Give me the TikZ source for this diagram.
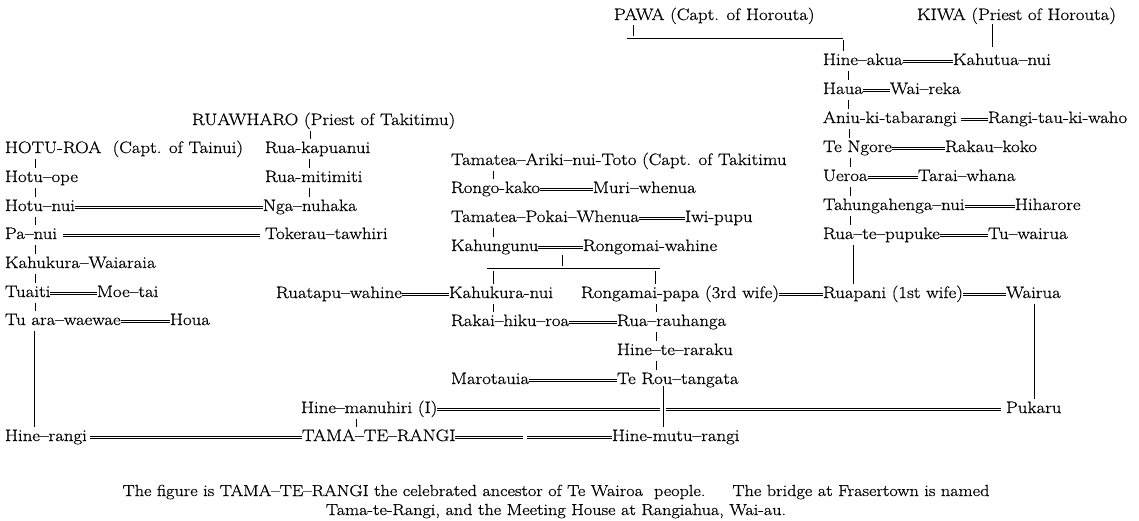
\documentclass[tikz,border=0pt]{standalone}
\usepackage{fontspec}
\setmainfont{Latin Modern Roman}[FakeStretch=1.14,FakeBold=0.6]
\newcommand\pf{\fontsize{16.5}{19}\selectfont}
\tikzset{
  person/.style={anchor=base west, inner sep=0pt, outer sep=0pt, font=\pf},
  kin/.style={line width=0.9pt},
  wed/.style={double, double distance=1.4pt, line width=0.7pt},
  captext/.style={anchor=base, inner sep=0pt, font=\fontsize{16}{18}\selectfont},
}
\newcommand\tk[3]{\draw[kin] ([yshift=-6pt]#1.base -| #3,0) -- ([yshift=14pt]#2.base -| #3,0);}
\newcommand\mw[3][]{\draw[wed,#1] ([yshift=3.5pt]#2.base east) -- ([yshift=3.5pt]#3.base west);}
\begin{document}
\begin{tikzpicture}[x=1pt,y=-1pt]
\fill[white] (0,0) rectangle (1139,520);
\useasboundingbox (0,0) rectangle (1139,520);
% right column
\node[person] (pawa) at (614,20) {PAWA (Capt. of Horouta)};
\node[person] (kiwa) at (917,20) {KIWA (Priest of Horouta)};
\node[person] (hineakua) at (823,65) {Hine--akua};
\node[person] (kahutua) at (953,65) {Kahutua--nui};
\node[person] (haua) at (823,94) {Haua};
\node[person] (waireka) at (890,94) {Wai--reka};
\node[person] (aniu) at (823,123) {Aniu-ki-tabarangi};
\node[person] (rangitau) at (988,123) {Rangi-tau-ki-waho};
\node[person] (tengore) at (823,152) {Te Ngore};
\node[person] (rakau) at (945,152) {Rakau--koko};
\node[person] (ueroa) at (823,181) {Ueroa};
\node[person] (tarai) at (918,181) {Tarai--whana};
\node[person] (tahunga) at (823,210) {Tahungahenga--nui};
\node[person] (hiharore) at (1015,210) {Hiharore};
\node[person] (ruatepupuke) at (823,239) {Rua--te--pupuke};
\node[person] (tuwairua) at (988,239) {Tu--wairua};
\node[person] (ruapani) at (823,298) {Ruapani (1st wife)};
\node[person] (wairua) at (1006,298) {Wairua};
\node[person] (pukaru) at (1006,413) {Pukaru};
% left column
\node[person] (ruawharo) at (192,125) {RUAWHARO (Priest of Takitimu)};
\node[person] (hoturoa) at (5,153) {HOTU-ROA\ \ (Capt. of Tainui)};
\node[person] (ruakap) at (265,153) {Rua-kapuanui};
\node[person] (hotuope) at (5,182) {Hotu--ope};
\node[person] (ruamit) at (265,182) {Rua-mitimiti};
\node[person] (hotunui) at (5,211) {Hotu--nui};
\node[person] (nganuhaka) at (263,211) {Nga--nuhaka};
\node[person] (panui) at (5,239) {Pa--nui};
\node[person] (tokerau) at (265,239) {Tokerau--tawhiri};
\node[person] (kahukuraw) at (5,268) {Kahukura--Waiaraia};
\node[person] (tuaiti) at (5,297) {Tuaiti};
\node[person] (moetai) at (97,297) {Moe--tai};
\node[person] (tuara) at (5,325) {Tu ara--waewae};
\node[person] (houa) at (170,325) {Houa};
\node[person] (hinerangi) at (5,441) {Hine--rangi};
\node[person] (tama) at (302,441) {TAMA--TE--RANGI};
\node[person] (hinemanuhiri) at (301,413) {Hine--manuhiri (I)};
\node[person] (hinemutu) at (612,441) {Hine-mutu--rangi};
% middle
\node[person] (tamatea) at (451,165) {Tamatea--Ariki--nui-Toto (Capt. of Takitimu};
\node[person] (rongokako) at (451,193) {Rongo-kako};
\node[person] (muri) at (593,193) {Muri--whenua};
\node[person] (tamateap) at (451,222) {Tamatea--Pokai--Whenua};
\node[person] (iwipupu) at (685,222) {Iwi-pupu};
\node[person] (kahungunu) at (451,251) {Kahungunu};
\node[person] (rongomai) at (583,251) {Rongomai-wahine};
\node[person] (ruatapu) at (276,298) {Ruatapu--wahine};
\node[person] (kahukuranui) at (449,298) {Kahukura-nui};
\node[person] (rongamai) at (581,298) {Rongamai-papa (3rd wife)};
\node[person] (rakai) at (451,326) {Rakai--hiku--roa};
\node[person] (ruarau) at (617,326) {Rua--rauhanga};
\node[person] (hineterar) at (617,355) {Hine--te--raraku};
\node[person] (marotauia) at (451,384) {Marotauia};
\node[person] (terou) at (617,384) {Te Rou--tangata};
% caption
\node[captext] (cap1) at (556,496) {The figure is TAMA--TE--RANGI the celebrated ancestor of Te Wairoa\ \ people.\quad\ \ The bridge at Frasertown is named};
\node[captext] (cap2) at (556,515) {Tama-te-Rangi, and the Meeting House at Rangiahua, Wai-au.};
% coordinates
\coordinate (pb1) at (627,38);
\coordinate (pb2) at (843,38);
\coordinate (kb1) at (487,268);
\coordinate (kb2) at (660,268);
\coordinate (kbt) at (562,266);
\coordinate (kt1) at (493,271);
\coordinate (kt2) at (655,271);
\coordinate (brkA) at (660,0);
\coordinate (brkB) at (666,0);
\coordinate (brkC) at (523,0);
\coordinate (brkD) at (527,0);
% PAWA / KIWA
\draw[kin] ([yshift=-5pt]pawa.base -| 633,0) -- ([yshift=2pt]pb1 -| 633,0);
\draw[kin] (pb1) -- (pb2);
\draw[kin] ([yshift=-2pt]pb2) -- ([yshift=14pt]hineakua.base -| pb2);
\draw[kin] ([yshift=-4pt]kiwa.base -| 992,0) -- ([yshift=18pt]kahutua.base -| 992,0);
\tk{hineakua}{haua}{848}
\tk{haua}{aniu}{848}
\tk{aniu}{tengore}{849}
\tk{tengore}{ueroa}{850}
\tk{ueroa}{tahunga}{850}
\tk{tahunga}{ruatepupuke}{850}
\tk{ruatepupuke}{ruapani}{853}
\tk{wairua}{pukaru}{1034}
\mw{hineakua}{kahutua}
\mw{haua}{waireka}
\mw[shorten <=4pt]{aniu}{rangitau}
\mw{tengore}{rakau}
\mw{ueroa}{tarai}
\mw{tahunga}{hiharore}
\mw{ruatepupuke}{tuwairua}
\mw{ruapani}{wairua}
\mw{rongamai}{ruapani}
% left
\tk{ruawharo}{ruakap}{310}
\tk{ruakap}{ruamit}{309}
\tk{ruamit}{nganuhaka}{309}
\tk{hoturoa}{hotuope}{35}
\tk{hotuope}{hotunui}{35}
\tk{hotunui}{panui}{35}
\tk{panui}{kahukuraw}{35}
\tk{kahukuraw}{tuaiti}{35}
\tk{tuaiti}{tuara}{35}
\tk{tuara}{hinerangi}{34}
\mw{hotunui}{nganuhaka}
\mw[shorten <=6pt,shorten >=5pt]{panui}{tokerau}
\mw{tuaiti}{moetai}
\mw{tuara}{houa}
\mw[shorten <=3pt]{hinerangi}{tama}
\tk{hinemanuhiri}{tama}{356}
\draw[wed] ([yshift=3.5pt]tama.base east) -- ([yshift=3.5pt]tama.base -| brkC);
\draw[wed] ([yshift=3.5pt]tama.base -| brkD) -- ([yshift=3.5pt]hinemutu.base west);
\draw[wed] ([yshift=3.5pt]hinemanuhiri.base east) -- ([yshift=3.5pt]hinemanuhiri.base -| brkA);
\draw[wed,shorten >=5pt] ([yshift=3.5pt]hinemanuhiri.base -| brkB) -- ([yshift=3.5pt]pukaru.base west);
% middle
\tk{tamatea}{rongokako}{493}
\tk{tamateap}{kahungunu}{493}
\mw{rongokako}{muri}
\mw{tamateap}{iwipupu}
\mw{kahungunu}{rongomai}
\draw[kin] ([yshift=-4pt]kahungunu.base -| kbt) -- (kbt);
\draw[kin] (kb1) -- (kb2);
\draw[kin] (kt1) -- ([yshift=14pt]kahukuranui.base -| kt1);
\draw[kin] (kt2) -- ([yshift=14pt]rongamai.base -| kt2);
\mw{ruatapu}{kahukuranui}
\tk{kahukuranui}{rakai}{493}
\tk{rongamai}{ruarau}{656}
\tk{ruarau}{hineterar}{656}
\tk{hineterar}{terou}{656}
\draw[kin] ([yshift=-2pt]terou.base -| brkA) ++(3,0) -- ([yshift=14pt]hinemutu.base -| 663,0);
\mw{rakai}{ruarau}
\mw{marotauia}{terou}
\end{tikzpicture}
\end{document}
